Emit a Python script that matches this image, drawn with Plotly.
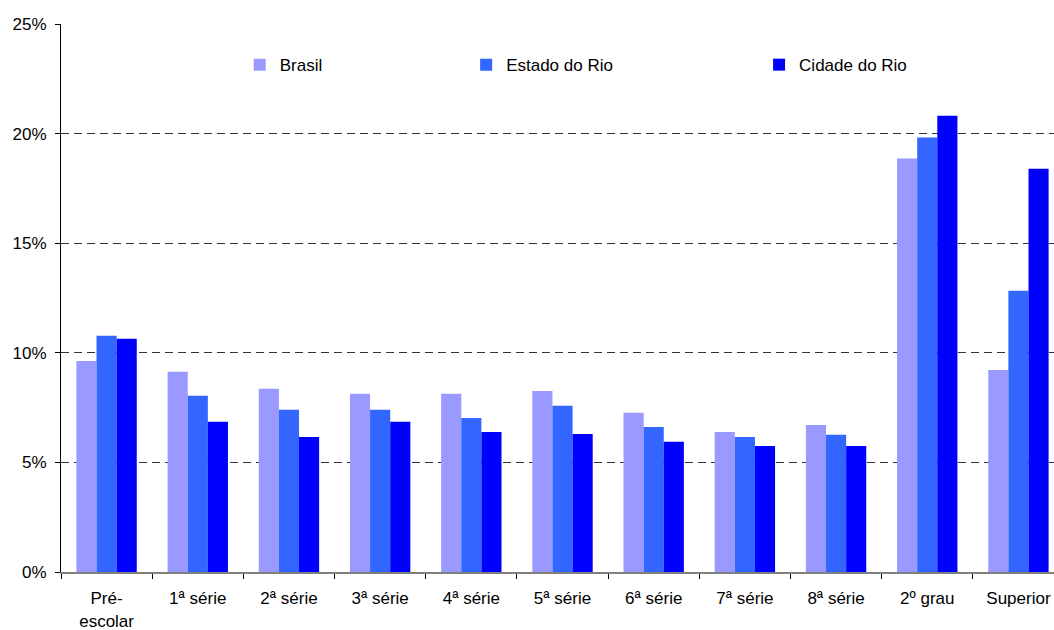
import plotly.graph_objects as go

categories = ["Pré-<br>escolar", "1ª série", "2ª série", "3ª série", "4ª série",
              "5ª série", "6ª série", "7ª série", "8ª série", "2º grau", "Superior"]

brasil = [9.63, 9.13, 8.36, 8.13, 8.13, 8.26, 7.26, 6.39, 6.71, 18.86, 9.22]
estado_rio = [10.78, 8.04, 7.40, 7.40, 7.03, 7.58, 6.62, 6.16, 6.26, 19.82, 12.83]
cidade_rio = [10.64, 6.85, 6.16, 6.85, 6.39, 6.30, 5.94, 5.75, 5.75, 20.82, 18.40]

FONT = "Liberation Sans, Arial, sans-serif"

series = [
    ("Brasil", brasil, "#9999FF", "legend", 0.180),
    ("Estado do Rio", estado_rio, "#3366FF", "legend2", 0.408),
    ("Cidade do Rio", cidade_rio, "#0000FF", "legend3", 0.703),
]

fig = go.Figure()
legend_layouts = {}
for name, vals, color, leg, lx in series:
    fig.add_trace(go.Bar(
        x=categories, y=[v / 100 for v in vals], name=name,
        marker=dict(color=color, line=dict(width=0)),
        legend=leg,
    ))
    legend_layouts[leg] = dict(
        x=lx, y=0.925, xanchor="left", yanchor="middle",
        orientation="h", bgcolor="rgba(0,0,0,0)",
        font=dict(family=FONT, size=17, color="#000000"),
    )

fig.update_layout(
    width=1054, height=630,
    margin=dict(l=61, r=0, t=24, b=58),
    plot_bgcolor="white", paper_bgcolor="white",
    barmode="group", bargap=0.338, bargroupgap=0,
    showlegend=True,
    font=dict(family=FONT, size=17, color="#000000"),
    xaxis=dict(
        range=[-0.5, 10.39],
        showline=True, linecolor="#808080", linewidth=2,
        ticks="outside", tickson="boundaries", ticklen=5, tickcolor="#000000",
        showgrid=False, tickfont=dict(size=17), ticklabelstandoff=10,
    ),
    yaxis=dict(
        range=[0, 0.25], tickvals=[0, 0.05, 0.10, 0.15, 0.20, 0.25],
        tickformat=".0%",
        showline=True, linecolor="#000000", linewidth=1,
        ticks="outside", ticklen=5, tickcolor="#000000",
        showgrid=True, gridcolor="#333333", gridwidth=1, griddash="8px,5px",
        zeroline=False, tickfont=dict(size=17), ticklabelstandoff=5,
    ),
    **legend_layouts,
)

fig.write_html("out.html")
